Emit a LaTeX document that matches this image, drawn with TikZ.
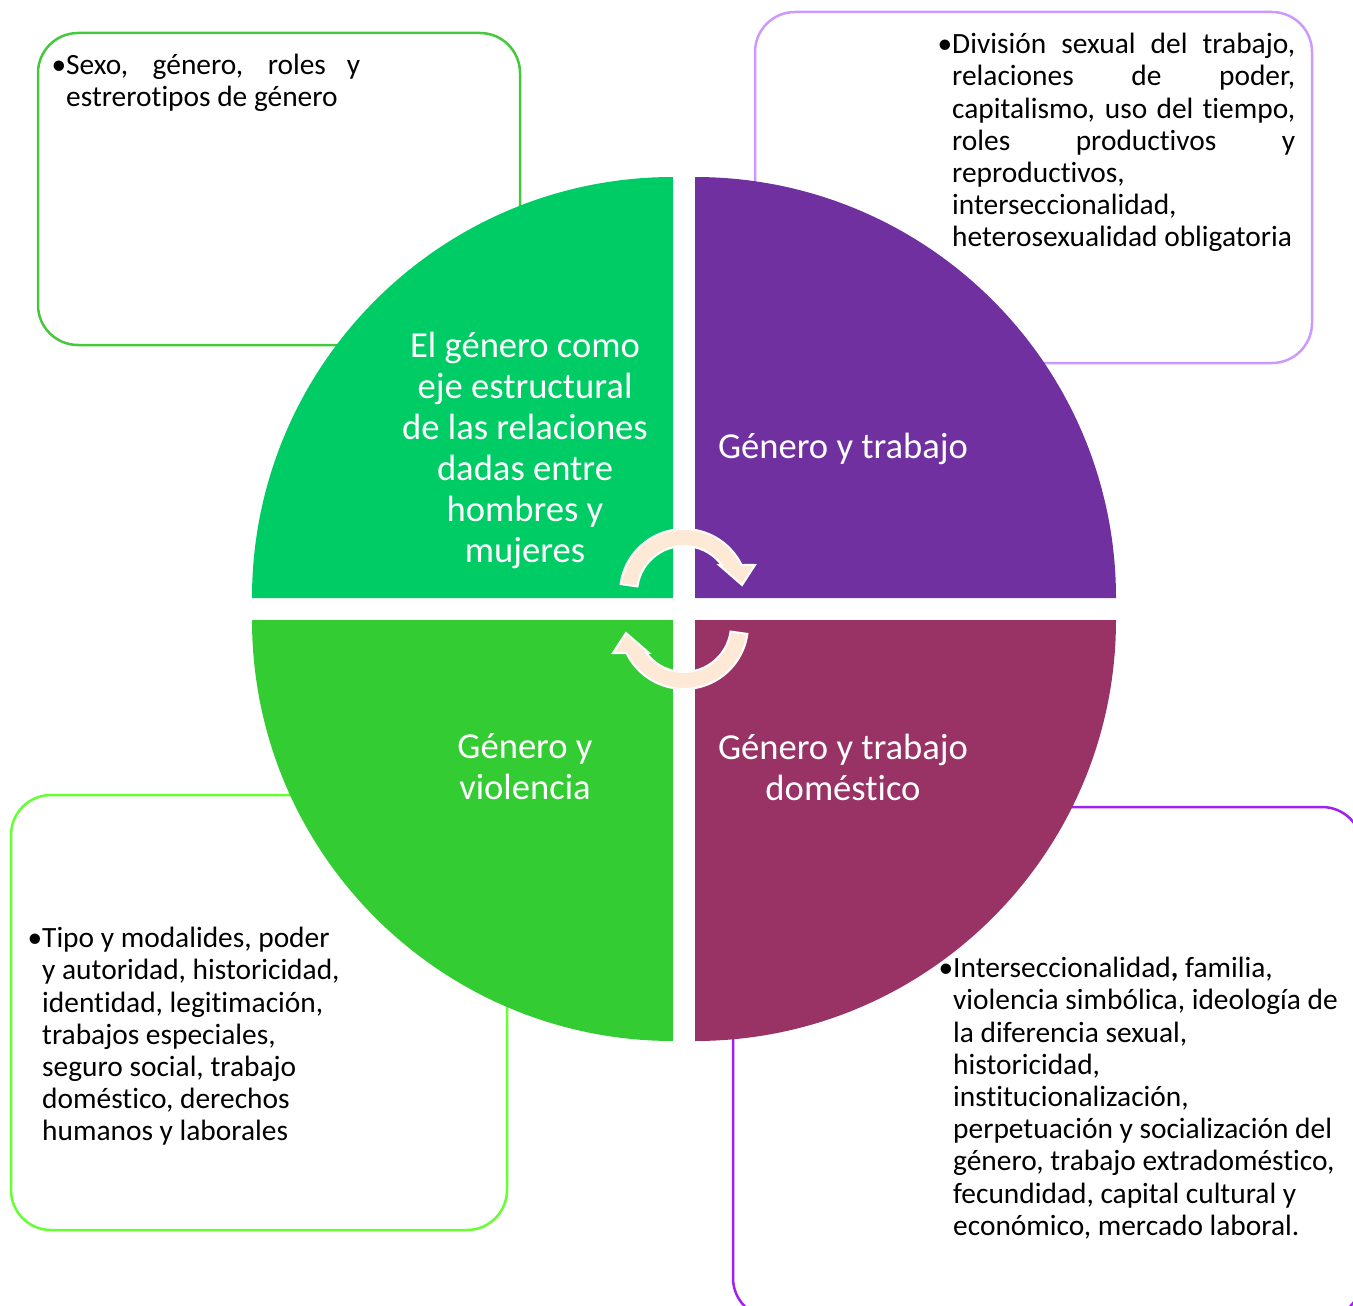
\documentclass[tikz,border=0pt]{standalone}
\usepackage{fontspec}
\setmainfont{Carlito}[Ligatures=NoCommon]
\definecolor{qgreen}{RGB}{0,204,102}
\definecolor{qpurple}{RGB}{112,48,160}
\definecolor{qlime}{RGB}{51,204,51}
\definecolor{qplum}{RGB}{153,51,102}
\definecolor{bgreen}{RGB}{70,200,60}
\definecolor{blilac}{RGB}{204,153,255}
\definecolor{blime}{RGB}{102,255,51}
\definecolor{bviolet}{RGB}{160,32,240}
\definecolor{cream}{RGB}{253,233,214}
\newcommand{\boxfont}{\fontsize{29.4}{32.2}\selectfont}
\newcommand{\circfont}{\fontsize{36.6}{41}\selectfont}
\newcommand{\jl}[2]{\makebox[#1][s]{#2}}
\begin{document}
\begin{tikzpicture}[x=1pt,y=1pt,
    notebox/.style={anchor=north west,inner sep=0pt,align=left,font=\boxfont},
    frame/.style={line width=2.5pt,rounded corners=40pt},
    quadtext/.style={text=white,align=center,font=\circfont,inner sep=0pt},
    cycarrow/.pic={\filldraw[fill=cream,draw=white,line width=2pt]
      (172:64) arc (172:26:64) -- (71,28) -- (58,8) -- (35,28) -- (36.6:47) arc (36.6:172:47) -- cycle;}]
  \useasboundingbox (0,0) rectangle (1353,-1306);
  \clip (0,0) rectangle (1353,-1306);

  \draw[frame,bgreen] (38,-33) rectangle (520,-345);
  \draw[frame,blilac] (755,-12) rectangle (1312,-363);
  \draw[frame,blime] (11,-795) rectangle (507,-1230);
  \draw[frame,bviolet] (733,-807) rectangle (1362,-1318);

  \fill[qgreen] (673,-598) -- ++(-421,0) arc (180:90:421) -- cycle;
  \fill[qpurple] (695,-598) -- ++(0,421) arc (90:0:421) -- cycle;
  \fill[qlime] (673,-620) -- ++(-421,0) arc (180:270:421) -- cycle;
  \fill[qplum] (695,-620) -- ++(421,0) arc (0:-90:421) -- cycle;

  \pic at (684,-593) {cycarrow};
  \pic[rotate=180] at (684,-625) {cycarrow};

  \node[quadtext] (structure) at (525,-450) {El género como\\eje estructural\\de las relaciones\\dadas entre\\hombres y\\mujeres};
  \node[quadtext] (work) at (843,-449) {Género y trabajo};
  \node[quadtext] (violence) at (525,-767) {Género y\\violencia};
  \node[quadtext] (domestic) at (843,-767) {Género y trabajo\\doméstico};

  % box texts
  \node[notebox] (sexnote) at (66,-54) {\llap{\textbullet}\jl{294pt}{Sexo, género, roles y}\\estrerotipos de género};
  \node[notebox] (worknote) at (952,-33) {\llap{\textbullet}\jl{343pt}{División sexual del trabajo,}\\
    \jl{343pt}{relaciones de poder,}\\\jl{343pt}{capitalismo, uso del tiempo,}\\
    \jl{343pt}{roles productivos y}\\reproductivos,\\interseccionalidad,\\heterosexualidad obligatoria};
  \node[notebox] (violnote) at (42,-927) {\llap{\textbullet}Tipo y modalides, poder\\y autoridad, historicidad,\\
    identidad, legitimación,\\trabajos especiales,\\seguro social, trabajo\\doméstico, derechos\\humanos y laborales};
  \node[notebox] (domnote) at (953,-957) {\llap{\textbullet}Interseccionalidad\textbf{,} familia,\\
    violencia simbólica, ideología de\\la diferencia sexual,\\historicidad,\\institucionalización,\\
    perpetuación y socialización del\\género, trabajo extradoméstico,\\fecundidad, capital cultural y\\
    económico, mercado laboral.};
\end{tikzpicture}
\end{document}
